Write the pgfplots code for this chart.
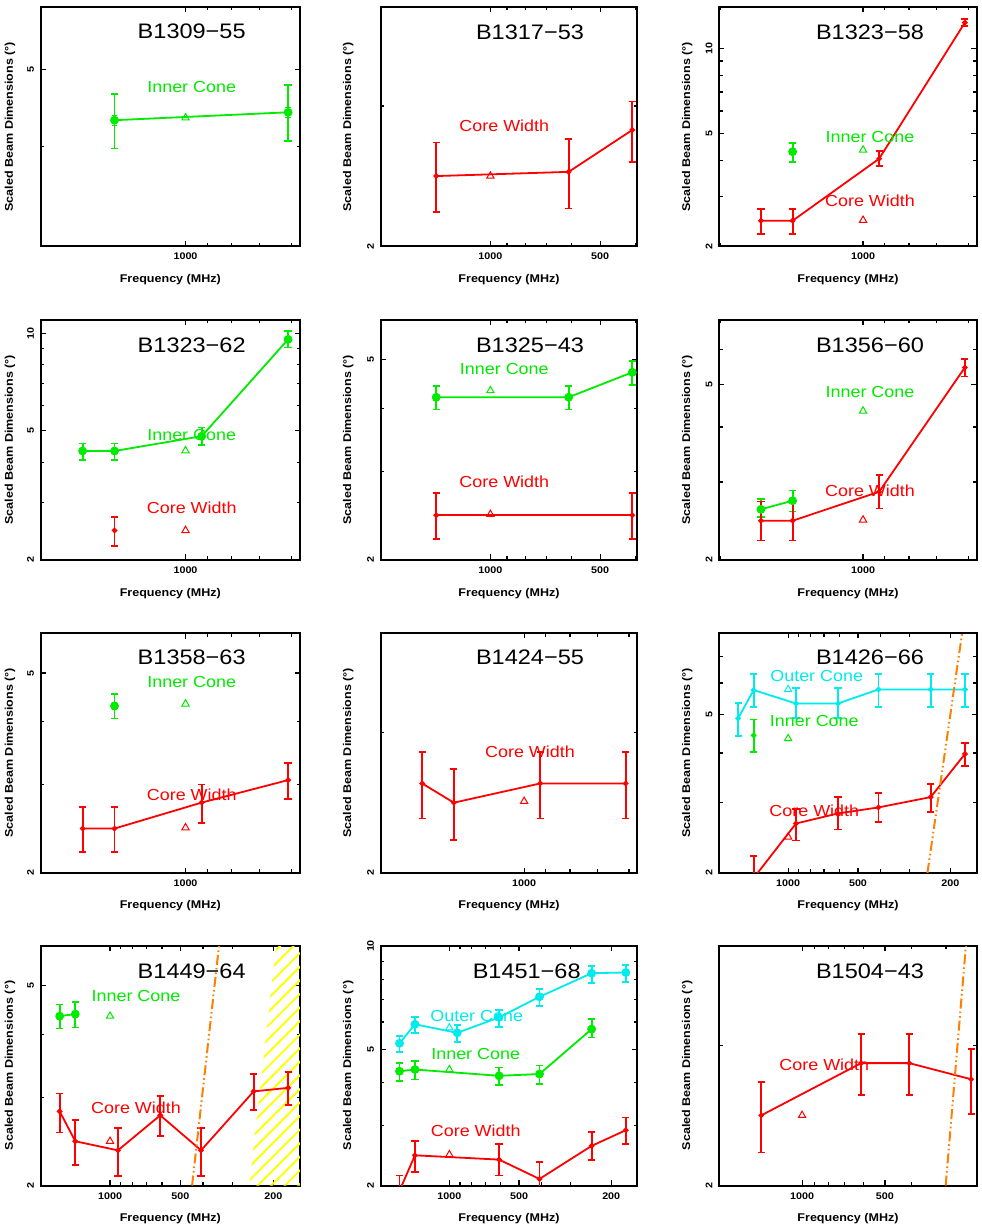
\documentclass[border=0pt]{standalone}
\usepackage{fontspec}
\setmainfont[FakeStretch=1.12]{Liberation Sans}
\usepackage{pgfplots}
\pgfplotsset{compat=1.18}
\usetikzlibrary{patterns.meta}

\definecolor{pgred}{RGB}{255,0,0}
\definecolor{pggreen}{RGB}{0,235,0}
\definecolor{pgcyan}{RGB}{0,235,235}
\definecolor{pgorange}{RGB}{255,128,0}
\definecolor{pgyellow}{RGB}{255,255,0}

\newcommand\tickfont{\bfseries\fontsize{4.8}{5}\selectfont}
\newcommand\labfont{\bfseries\fontsize{5.6}{6}\selectfont}
\newcommand\titfont{\fontsize{10.5}{11}\selectfont}
\newcommand\serfont{\fontsize{8}{9}\selectfont}

\pgfplotsset{
 every axis/.append style={
  scale only axis, height=119.75pt,
  xmode=log, ymode=log, x dir=reverse,
  axis line style={line width=1pt},
  every tick/.append style={black, line width=0.6pt},
  major tick length=2.6pt, minor tick length=1.7pt,
  minor xtick={300,400,600,700,800,900,2000},
  minor ytick={3,4,6,7,8,9},
  xticklabel style={font=\tickfont, inner sep=0pt, yshift=-3.2pt},
  yticklabel style={font=\tickfont, rotate=90, anchor=south, inner sep=3.2pt},
 },
 dat/.style={line width=0.9pt, mark=*, mark size=0.9pt,
   error bars/y dir=both, error bars/y explicit,
   error bars/error bar style={line width=0.9pt},
   error bars/error mark options={rotate=90, mark size=1.8pt, line width=0.9pt}},
 hats/.style={only marks, mark=none,
   error bars/y dir=both, error bars/y fixed relative=0.014,
   error bars/error bar style={line width=0.5pt},
   error bars/error mark options={rotate=90, mark size=1.4pt, line width=0.5pt}},
 tri/.style={only marks, mark=triangle, mark size=2.1pt, mark options={line width=0.5pt}},
 odash/.style={color=pgorange, line width=1pt, dash pattern=on 5pt off 1.5pt on 0.8pt off 1.5pt on 0.8pt off 1.5pt},
}

\begin{document}
\begin{tikzpicture}
\fill[white] (0,0) rectangle (490.5pt,-613pt);
\path[use as bounding box] (0,0) rectangle (490.5pt,-613pt);

% ---------- Row 1 ----------
\begin{axis}[width=129.65pt, at={(20.35pt,-3.35pt)}, anchor=north west,
  xmin=576, xmax=2010, xtick={1000}, xticklabels={1000},
  ymin=3, ymax=6, ytick={5}, yticklabels={5}]
\addplot[pggreen, dat] coordinates {(1408,4.32) += (0,0.34) -= (0,0.34) (610,4.42) += (0,0.36) -= (0,0.35)};
\addplot[pggreen, hats] coordinates {(1408,4.32) (610,4.42)};
\addplot[pggreen, tri] coordinates {(1000,4.35)};
\end{axis}

\begin{axis}[width=128.4pt, at={(190.35pt,-3.35pt)}, anchor=north west,
  xmin=395, xmax=2000, xtick={500,1000}, xticklabels={500,1000},
  ymin=2, ymax=4, ytick={2}, yticklabels={2}]
\addplot[pgred, dat] coordinates {(1408,2.45) += (0,0.25) -= (0,0.24) (610,2.48) += (0,0.25) -= (0,0.25) (408,2.80) += (0,0.24) -= (0,0.25)};
\addplot[pgred, tri] coordinates {(1000,2.45)};
\end{axis}

\begin{axis}[width=128.7pt, at={(359.65pt,-3.35pt)}, anchor=north west,
  xmin=576, xmax=2010, xtick={1000}, xticklabels={1000},
  ymin=2, ymax=14, ytick={2,5,10}, yticklabels={2,5,10}]
\addplot[pggreen, dat] coordinates {(1408,4.31) += (0,0.33) -= (0,0.34)};
\addplot[pggreen, hats] coordinates {(1408,4.31)};
\addplot[pgred, dat] coordinates {(1642,2.46) += (0,0.25) -= (0,0.25) (1408,2.46) += (0,0.25) -= (0,0.25) (925,4.07) += (0,0.27) -= (0,0.23) (610,12.3) += (0,0.4) -= (0,0.3)};
\addplot[pggreen, tri] coordinates {(1000,4.37)};
\addplot[pgred, tri] coordinates {(1000,2.47)};
\end{axis}

% ---------- Row 2 ----------
\begin{axis}[width=129.65pt, at={(20.35pt,-160pt)}, anchor=north west,
  xmin=576, xmax=2010, xtick={1000}, xticklabels={1000},
  ymin=2, ymax=11, ytick={2,5,10}, yticklabels={2,5,10}]
\addplot[pggreen, dat] coordinates {(1642,4.33) += (0,0.24) -= (0,0.27) (1408,4.33) += (0,0.24) -= (0,0.27) (925,4.81) += (0,0.31) -= (0,0.29) (610,9.58) += (0,0.58) -= (0,0.54)};
\addplot[pggreen, hats] coordinates {(1642,4.33) (1408,4.33) (925,4.81) (610,9.58)};
\addplot[pgred, dat] coordinates {(1408,2.46) += (0,0.25) -= (0,0.26)};
\addplot[pggreen, tri] coordinates {(1000,4.34)};
\addplot[pgred, tri] coordinates {(1000,2.46)};
\end{axis}

\begin{axis}[width=128.4pt, at={(190.35pt,-160pt)}, anchor=north west,
  xmin=395, xmax=2000, xtick={500,1000}, xticklabels={500,1000},
  ymin=2, ymax=6, ytick={2,5}, yticklabels={2,5}]
\addplot[pggreen, dat] coordinates {(1408,4.21) += (0,0.23) -= (0,0.23) (610,4.21) += (0,0.23) -= (0,0.23) (408,4.72) += (0,0.26) -= (0,0.26)};
\addplot[pggreen, hats] coordinates {(1408,4.21) (610,4.21) (408,4.72)};
\addplot[pgred, dat] coordinates {(1408,2.45) += (0,0.26) -= (0,0.25) (408,2.45) += (0,0.26) -= (0,0.25)};
\addplot[pggreen, tri] coordinates {(1000,4.34)};
\addplot[pgred, tri] coordinates {(1000,2.46)};
\end{axis}

\begin{axis}[width=128.7pt, at={(359.65pt,-160pt)}, anchor=north west,
  xmin=576, xmax=2010, xtick={1000}, xticklabels={1000},
  ymin=2, ymax=7, ytick={2,5}, yticklabels={2,5}]
\addplot[pggreen, dat] coordinates {(1642,2.60) += (0,0.14) -= (0,0.10) (1408,2.72) += (0,0.15) -= (0,0.15)};
\addplot[pggreen, hats] coordinates {(1642,2.60) (1408,2.72)};
\addplot[pgred, dat] coordinates {(1642,2.45) += (0,0.26) -= (0,0.24) (1408,2.45) += (0,0.26) -= (0,0.24) (925,2.85) += (0,0.26) -= (0,0.24) (610,5.46) += (0,0.24) -= (0,0.25)};
\addplot[pggreen, tri] coordinates {(1000,4.35)};
\addplot[pgred, tri] coordinates {(1000,2.46)};
\end{axis}

% ---------- Row 3 ----------
\begin{axis}[width=129.65pt, at={(20.35pt,-316.65pt)}, anchor=north west,
  xmin=576, xmax=2010, xtick={1000}, xticklabels={1000},
  ymin=2, ymax=6, ytick={2,5}, yticklabels={2,5}]
\addplot[pgred, dat] coordinates {(1642,2.45) += (0,0.25) -= (0,0.25) (1408,2.45) += (0,0.25) -= (0,0.25) (925,2.76) += (0,0.24) -= (0,0.25) (610,3.06) += (0,0.25) -= (0,0.25)};
\addplot[pggreen, dat] coordinates {(1408,4.30) += (0,0.25) -= (0,0.24)};
\addplot[pggreen, hats] coordinates {(1408,4.30)};
\addplot[pggreen, tri] coordinates {(1000,4.34)};
\addplot[pgred, tri] coordinates {(1000,2.46)};
\end{axis}

\begin{axis}[width=128.4pt, at={(190.35pt,-316.65pt)}, anchor=north west,
  xmin=576, xmax=2010, xtick={1000}, xticklabels={1000},
  ymin=2, ymax=4, ytick={2}, yticklabels={2}]
\addplot[pgred, dat] coordinates {(1642,2.59) += (0,0.25) -= (0,0.25) (1408,2.45) += (0,0.25) -= (0,0.25) (925,2.59) += (0,0.25) -= (0,0.25) (610,2.59) += (0,0.25) -= (0,0.25)};
\addplot[pgred, tri] coordinates {(1000,2.46)};
\end{axis}

\begin{axis}[width=128.7pt, at={(359.65pt,-316.65pt)}, anchor=north west,
  xmin=154, xmax=1980, xtick={200,500,1000}, xticklabels={200,500,1000},
  ymin=2, ymax=8, ytick={2,5}, yticklabels={2,5}]
\addplot[pgcyan, dat] coordinates {(1642,4.89) += (0,0.46) -= (0,0.47) (1408,5.76) += (0,0.55) -= (0,0.55) (925,5.33) += (0,0.49) -= (0,0.44) (610,5.33) += (0,0.49) -= (0,0.44) (408,5.78) += (0,0.53) -= (0,0.57) (243,5.78) += (0,0.53) -= (0,0.57) (173,5.78) += (0,0.53) -= (0,0.57)};
\addplot[pggreen, dat] coordinates {(1408,4.43) += (0,0.43) -= (0,0.41)};
\addplot[pgred, dat] coordinates {(1408,1.94) += (0,0.26) -= (0,0.23) (925,2.66) += (0,0.23) -= (0,0.25) (610,2.82) += (0,0.28) -= (0,0.25) (408,2.92) += (0,0.25) -= (0,0.24) (243,3.10) += (0,0.24) -= (0,0.26) (173,3.98) += (0,0.26) -= (0,0.26)};
\addplot[odash] coordinates {(251,2) (178,8)};
\addplot[pgcyan, tri] coordinates {(1000,5.78)};
\addplot[pggreen, tri] coordinates {(1000,4.35)};
\addplot[pgred, tri] coordinates {(1000,2.46)};
\end{axis}

% ---------- Row 4 ----------
\begin{axis}[width=129.65pt, at={(20.35pt,-473pt)}, anchor=north west,
  xmin=154, xmax=1980, xtick={200,500,1000}, xticklabels={200,500,1000},
  ymin=2, ymax=6, ytick={2,5}, yticklabels={2,5}]
\addplot[draw=none, pattern={Lines[angle=45,distance=4.8pt,line width=0.95pt]}, pattern color=pgyellow] coordinates {(254,2) (195,6) (120,6) (120,2)} -- cycle;
\addplot[pggreen, dat] coordinates {(1642,4.35) += (0,0.24) -= (0,0.24) (1408,4.39) += (0,0.25) -= (0,0.26)};
\addplot[pggreen, hats] coordinates {(1642,4.35) (1408,4.39)};
\addplot[pgred, dat] coordinates {(1642,2.81) += (0,0.24) -= (0,0.26) (1408,2.45) += (0,0.25) -= (0,0.25) (925,2.35) += (0,0.25) -= (0,0.26) (610,2.76) += (0,0.26) -= (0,0.25) (408,2.35) += (0,0.25) -= (0,0.26) (243,3.08) += (0,0.26) -= (0,0.25) (173,3.13) += (0,0.24) -= (0,0.24)};
\addplot[odash] coordinates {(445.7,2) (342,6)};
\addplot[pggreen, tri] coordinates {(1000,4.35)};
\addplot[pgred, tri] coordinates {(1000,2.45)};
\end{axis}

\begin{axis}[width=128.4pt, at={(190.35pt,-473pt)}, anchor=north west,
  xmin=154, xmax=1980, xtick={200,500,1000}, xticklabels={200,500,1000},
  ymin=2, ymax=10, ytick={2,5,10}, yticklabels={2,5,10}]
\addplot[pgcyan, dat] coordinates {(1642,5.20) += (0,0.26) -= (0,0.29) (1408,5.91) += (0,0.31) -= (0,0.35) (925,5.58) += (0,0.30) -= (0,0.32) (610,6.19) += (0,0.32) -= (0,0.38) (408,7.11) += (0,0.37) -= (0,0.44) (243,8.33) += (0,0.43) -= (0,0.52) (173,8.37) += (0,0.43) -= (0,0.50)};
\addplot[pgcyan, hats] coordinates {(1642,5.20) (1408,5.91) (925,5.58) (610,6.19) (408,7.11) (243,8.33) (173,8.37)};
\addplot[pggreen, dat] coordinates {(1642,4.31) += (0,0.25) -= (0,0.27) (1408,4.36) += (0,0.26) -= (0,0.28) (610,4.18) += (0,0.24) -= (0,0.26) (408,4.23) += (0,0.25) -= (0,0.27) (243,5.72) += (0,0.39) -= (0,0.31)};
\addplot[pggreen, hats] coordinates {(1642,4.31) (1408,4.36) (610,4.18) (408,4.23) (243,5.72)};
\addplot[pgred, dat] coordinates {(1642,1.93) += (0,0.21) -= (0,0.21) (1408,2.45) += (0,0.25) -= (0,0.26) (610,2.38) += (0,0.26) -= (0,0.24) (408,2.09) += (0,0.25) -= (0,0.25) (243,2.61) += (0,0.26) -= (0,0.24) (173,2.90) += (0,0.26) -= (0,0.26)};
\addplot[pgcyan, tri] coordinates {(1000,5.77)};
\addplot[pggreen, tri] coordinates {(1000,4.36)};
\addplot[pgred, tri] coordinates {(1000,2.46)};
\end{axis}

\begin{axis}[width=128.7pt, at={(359.65pt,-473pt)}, anchor=north west,
  xmin=232, xmax=2000, xtick={500,1000}, xticklabels={500,1000},
  ymin=2, ymax=4, ytick={2}, yticklabels={2}]
\addplot[pgred, dat] coordinates {(1408,2.45) += (0,0.25) -= (0,0.25) (610,2.85) += (0,0.25) -= (0,0.25) (408,2.85) += (0,0.25) -= (0,0.25) (243,2.72) += (0,0.25) -= (0,0.26)};
\addplot[odash] coordinates {(300.7,2) (254,4)};
\addplot[pgred, tri] coordinates {(1000,2.45)};
\end{axis}

% ---------- Text ----------
\begin{scope}[x=0.5pt,y=-0.5pt]
\foreach \cx/\ry in {10/126.7, 10/439.7, 10/752.8, 10/1065.5, 348.3/126.7, 348.3/439.7, 348.3/752.8, 348.3/1065.5, 687.3/126.7, 687.3/439.7, 687.3/752.8, 687.3/1065.5}
  \node[rotate=90, font=\labfont, inner sep=0pt] at (\cx,\ry) {Scaled Beam Dimensions (°)};
\foreach \cx/\ry in {170.3/280, 170.3/593.3, 170.3/905.7, 170.3/1218.3, 509/280, 509/593.3, 509/905.7, 509/1218.3, 848/280, 848/593.3, 848/905.7, 848/1218.3}
  \node[font=\labfont, inner sep=0pt] at (\cx,\ry) {Frequency (MHz)};
\node[font=\titfont] at (191.7,31.7) {B1309−55};
\node[font=\titfont] at (530,32.3) {B1317−53};
\node[font=\titfont] at (870,32.3) {B1323−58};
\node[font=\titfont] at (191.7,345) {B1323−62};
\node[font=\titfont] at (530,345) {B1325−43};
\node[font=\titfont] at (870,345) {B1356−60};
\node[font=\titfont] at (191.7,657.7) {B1358−63};
\node[font=\titfont] at (530,657.7) {B1424−55};
\node[font=\titfont] at (870,657.7) {B1426−66};
\node[font=\titfont] at (191.7,971.7) {B1449−64};
\node[font=\titfont] at (526.7,971.7) {B1451−68};
\node[font=\titfont] at (870,971.7) {B1504−43};
\node[font=\serfont, text=pggreen] at (191.7,87) {Inner Cone};
\node[font=\serfont, text=pgred] at (504.3,126) {Core Width};
\node[font=\serfont, text=pggreen] at (870,136.7) {Inner Cone};
\node[font=\serfont, text=pgred] at (870,200.7) {Core Width};
\node[font=\serfont, text=pggreen] at (191.7,435.3) {Inner Cone};
\node[font=\serfont, text=pgred] at (191.7,507.7) {Core Width};
\node[font=\serfont, text=pggreen] at (504.3,369.3) {Inner Cone};
\node[font=\serfont, text=pgred] at (504.3,481.7) {Core Width};
\node[font=\serfont, text=pggreen] at (870,392.3) {Inner Cone};
\node[font=\serfont, text=pgred] at (870,491) {Core Width};
\node[font=\serfont, text=pggreen] at (191.7,682.3) {Inner Cone};
\node[font=\serfont, text=pgred] at (191.7,794.3) {Core Width};
\node[font=\serfont, text=pgred] at (530,751.7) {Core Width};
\node[font=\serfont, text=pgcyan] at (816.7,675.7) {Outer Cone};
\node[font=\serfont, text=pggreen] at (814.3,720.7) {Inner Cone};
\node[font=\serfont, text=pgred] at (814.3,810.7) {Core Width};
\node[font=\serfont, text=pggreen] at (136,995.7) {Inner Cone};
\node[font=\serfont, text=pgred] at (136,1107.7) {Core Width};
\node[font=\serfont, text=pgcyan] at (476.7,1015.7) {Outer Cone};
\node[font=\serfont, text=pggreen] at (475.7,1054.3) {Inner Cone};
\node[font=\serfont, text=pgred] at (475.7,1131) {Core Width};
\node[font=\serfont, text=pgred] at (824.3,1065) {Core Width};
\end{scope}
\end{tikzpicture}
\end{document}
